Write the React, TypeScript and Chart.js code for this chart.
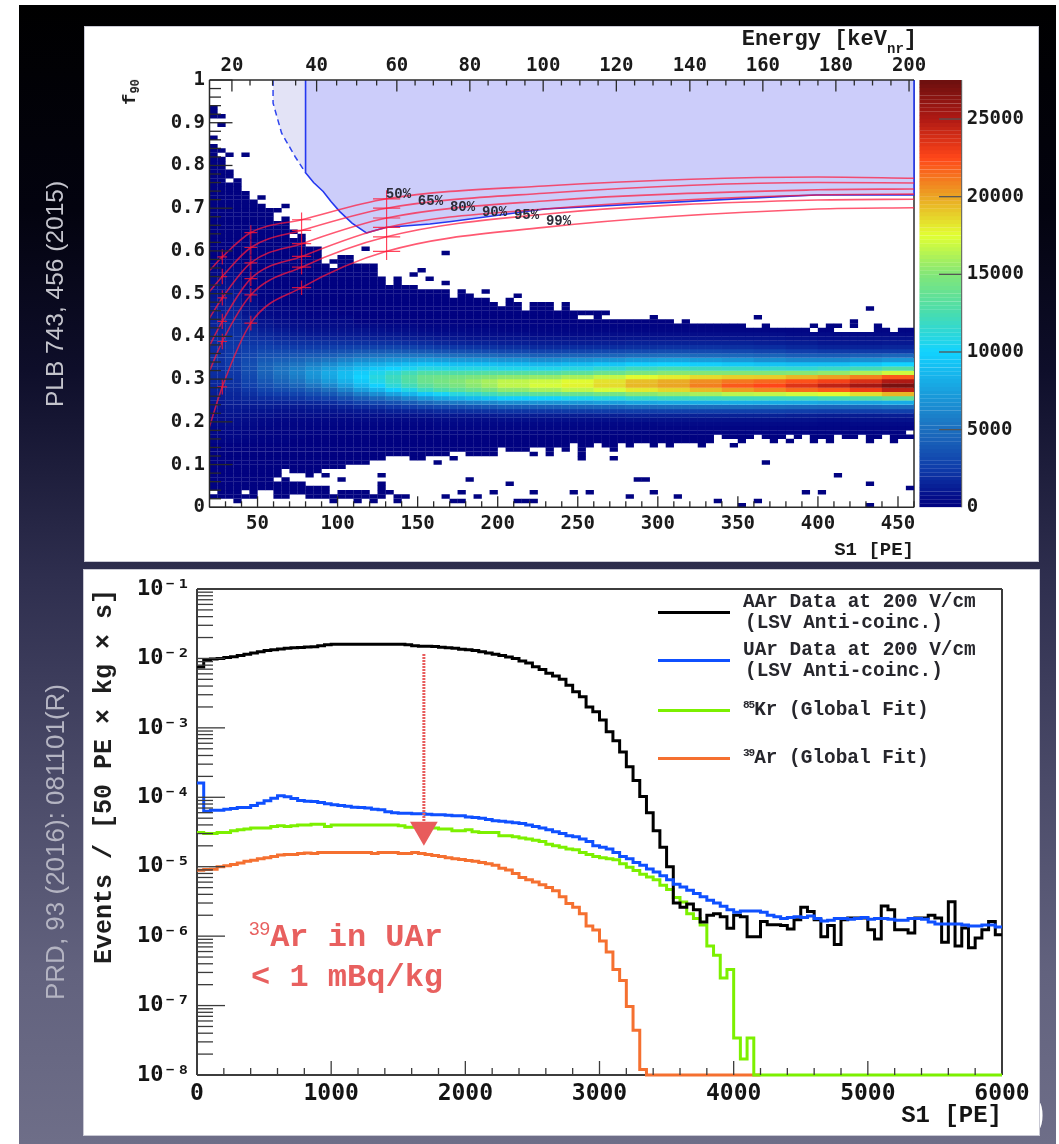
import React, { useEffect, useRef } from "react";
import { Chart, registerables } from "chart.js";

Chart.register(...registerables);

const PAGE_W = 1059;
const PAGE_H = 1144;
const TICK_FONT = "'DejaVu Sans Mono', monospace";
const TEXT_FONT = "'Liberation Mono', monospace";

/* ---------- top panel data: f90 vs S1 histogram, 5 PE x 0.01 bins ---------- */
const s1Min = 20;
const s1Max = 460;
const s1BinWidth = 5;
const heatFirstRow = 15;

// counts / 1000, per block of S1 (block starts in heatBlockStart), from f90 = 0.15 upward in 0.01 rows
const heatC25 = [.3,.3,.4,.4,.5,.6,.7,.8,.9,1,1.2,1.3,1.4,1.6,1.7,1.8,1.9,1.9,2,2,2,1.9,1.9,1.8,1.8,1.7,1.6,1.5,1.5,1.4,1.3,1.2,1.1,1,.9,.8,.8,.7,.6,.5,.4,.3,.2];
const heatC30 = [.3,.4,.4,.5,.6,.7,.8,1,1.1,1.3,1.5,1.6,1.8,2,2.1,2.2,2.3,2.4,2.5,2.5,2.4,2.3,2.3,2.2,2.1,2,1.9,1.8,1.7,1.6,1.5,1.4,1.3,1.2,1.1,1,.9,.8,.7,.6,.5,.4,.3];
const heatC40 = [.2,.3,.3,.4,.5,.6,.7,.9,1.1,1.4,1.7,2,2.3,2.7,2.9,3.1,3.3,3.4,3.4,3.2,3,2.7,2.5,2.2,2,1.8,1.6,1.4,1.2,1.1,.9,.8,.7,.6,.5,.4,.3,.3,.2];
const heatC50 = [.2,.2,.3,.3,.4,.5,.7,.9,1.2,1.5,1.9,2.4,2.9,3.4,3.8,4.2,4.4,4.5,4.3,3.9,3.5,3.1,2.7,2.3,1.9,1.6,1.3,1,.8,.6,.5,.4,.3,.25,.2,.2,.2,.2];
const heatC60 = [.2,.2,.2,.3,.3,.4,.6,.8,1.1,1.5,2,2.6,3.3,3.9,4.5,4.9,5.2,5.2,4.8,4.2,3.6,3.1,2.6,2.1,1.7,1.4,1.1,.8,.6,.5,.4,.3,.2,.2];
const heatC70 = [.1,.2,.2,.3,.3,.4,.6,.8,1.1,1.6,2.2,2.9,3.7,4.5,5.2,5.7,6,5.8,5.2,4.5,3.8,3.1,2.5,2,1.6,1.2,.9,.7,.5,.4,.3,.3,.2,.2];
const heatC80 = [.1,.1,.2,.2,.3,.4,.6,.9,1.2,1.7,2.5,3.4,4.3,5.3,6.2,6.8,7,6.6,5.8,4.9,4,3.2,2.5,2,1.5,1.1,.8,.6,.4,.3,.2];
const heatC90 = [.1,.1,.2,.2,.3,.4,.6,.9,1.3,1.9,2.8,3.9,5,6.2,7.2,7.8,8,7.4,6.4,5.3,4.2,3.3,2.6,2,1.5,1.1,.8,.6,.4,.3,.2,.2];
const heatC100 = [.1,.1,.2,.2,.3,.4,.6,1,1.5,2.3,3.4,4.7,6.1,7.4,8.3,8.9,8.9,8.2,7.1,5.9,4.6,3.5,2.7,2,1.5,1.1,.8,.6,.4,.3];
const heatC110 = [.1,.1,.2,.2,.3,.5,.7,1.1,1.8,2.8,4.1,5.7,7.4,8.7,9.5,10,9.7,8.9,7.8,6.4,5,3.8,2.8,2,1.5,1.1,.8,.5];
const heatC120 = [.1,.1,.2,.2,.3,.5,.7,1.2,2,3.2,4.7,6.6,8.5,9.9,10.7,11,10.6,9.5,8.2,6.7,5.2,3.9,2.8,2,1.4,1,.7,.5];
const heatC130 = [.1,.1,.2,.2,.3,.5,.8,1.4,2.3,3.6,5.4,7.6,9.8,11.2,11.8,12,11.4,10,8.6,7,5.4,4,2.9,2,1.4,1,.6,.4];
const heatC140 = [.1,.1,.1,.2,.3,.5,.8,1.5,2.6,4.1,6.2,8.5,10.8,12.2,12.9,13,12.2,10.5,9,7.2,5.4,3.9,2.8,1.9,1.3,.9,.6,.4];
const heatC150 = [.1,.1,.1,.2,.3,.5,.9,1.6,2.9,4.7,7,9.5,11.9,13.3,14,14,12.9,11,9.3,7.4,5.4,3.8,2.6,1.8,1.2,.8,.5,.3];
const heatC160 = [.1,.1,.2,.3,.4,.6,1,1.8,3.2,5.2,7.7,10.3,12.7,14,14.5,14.2,12.9,10.9,9.2,7.2,5.2,3.6,2.4,1.6,1.1,.7,.4,.3];
const heatC170 = [.1,.1,.2,.3,.4,.6,1,1.9,3.4,5.6,8.3,11,13.4,14.6,15,14.4,12.8,10.8,9,7.1,5,3.4,2.3,1.5,1,.7,.4,.3];
const heatC180 = [.1,.1,.2,.3,.4,.6,1,2,3.6,5.9,8.8,11.6,14,15.2,15.5,14.7,12.9,10.9,9,7,4.9,3.3,2.2,1.4,.9,.6,.4,.2];
const heatC190 = [.1,.1,.2,.3,.4,.6,1.1,2.1,3.8,6.2,9.2,12.2,14.6,15.8,16,15,13,10.9,9,7,4.8,3.2,2.1,1.4,.9,.6,.4,.2];
const heatC210 = [.1,.1,.2,.3,.4,.7,1.2,2.2,4.1,6.6,9.8,12.9,15.4,16.6,16.6,15.3,13,10.7,8.8,6.8,4.6,3,2,1.3,.9,.6,.3,.2];
const heatC230 = [.1,.1,.2,.3,.4,.7,1.2,2.3,4.2,6.9,10.1,13.4,16,17.2,17,15.5,13,10.7,8.6,6.5,4.3,2.8,1.8,1.2,.8,.5,.3,.2];
const heatC250 = [.1,.1,.2,.3,.4,.7,1.2,2.4,4.4,7.1,10.5,13.9,16.6,17.8,17.6,16,13.4,11,8.9,6.8,4.5,2.9,1.9,1.2,.8,.5,.3,.2];
const heatC270 = [.1,.1,.2,.3,.4,.7,1.3,2.5,4.5,7.4,10.9,14.4,17.2,18.5,18.3,16.7,14,11.5,9.3,7,4.6,3.1,1.9,1.3,.8,.6,.3,.2];
const heatC290 = [.1,.1,.2,.3,.4,.8,1.4,2.6,4.8,7.8,11.5,15.2,18.1,19.5,19.3,17.6,14.7,12.1,9.8,7.4,4.9,3.2,2,1.4,.9,.6,.3,.2];
const heatC310 = [.1,.1,.2,.3,.5,.8,1.4,2.7,4.9,8,11.8,15.6,18.6,20,19.8,18,15.1,12.4,10,7.6,5,3.3,2.1,1.4,.9,.6,.3,.2];
const heatC330 = [.1,.1,.2,.3,.5,.8,1.4,2.7,4.9,8.1,12,16,19.4,21,20.6,18.5,15,12.1,9.8,7.3,4.8,3.2,2.1,1.4,.9,.6,.3,.2];
const heatC350 = [.1,.1,.2,.3,.5,.8,1.4,2.7,4.9,8.2,12.1,16.5,20.2,22,21.2,18.8,15,11.9,9.5,7,4.7,3.1,2,1.4,.9,.6,.3,.2];
const heatC370 = [.1,.1,.2,.3,.5,.8,1.4,2.7,4.8,8.1,12,16.7,20.8,22.5,21.6,18.9,14.9,11.7,9.2,6.6,4.5,2.9,1.9,1.3,.9,.6,.3,.2];
const heatC390 = [.1,.1,.2,.3,.5,.8,1.3,2.6,4.7,8,12,17.1,21.5,23.5,22.2,19.5,15.1,11.5,9,6.3,4.2,2.6,1.7,1.2,.8,.5,.3,.2];
const heatC410 = [.1,.1,.2,.3,.4,.7,1.2,2.5,4.6,7.8,12.3,17.6,22,24.5,22.8,20.1,15.4,11.8,9,6.3,4.1,2.4,1.5,1,.7,.5,.2,.2];
const heatC430 = [.1,.1,.2,.3,.5,.8,1.2,2.6,4.7,7.8,12.8,18.4,23,25.5,23.7,20.9,16.1,12.3,9.4,6.6,4.3,2.4,1.5,1,.8,.5,.3,.2];
const heatC450 = [.1,.1,.2,.3,.5,.8,1.3,2.7,4.9,8.1,13.5,19.5,24.5,27,25,22,17,13,10,7,4.6,2.4,1.6,1.1,.8,.5,.3,.2];
const heatColumns = [heatC25,heatC30,heatC40,heatC50,heatC60,heatC70,heatC80,heatC90,heatC100,heatC110,heatC120,heatC130,heatC140,heatC150,heatC160,heatC170,heatC180,heatC190,heatC210,heatC230,heatC250,heatC270,heatC290,heatC310,heatC330,heatC350,heatC370,heatC390,heatC410,heatC430,heatC450];
const heatBlockStart = [20,30,40,50,60,70,80,90,100,110,120,130,140,150,160,170,180,190,200,220,240,260,280,300,320,340,360,380,400,420,440];

// occupied rows of each 5 PE column: lowerEdge <= row < upperEdge
const upperEdge = [85,84,79,77,74,72,71,70,67,68,65,64,61,61,58,58,59,59,57,57,57,54,52,54,52,52,51,51,51,51,49,51,50,49,49,48,47,49,48,46,48,48,48,46,48,46,46,46,46,44,44,44,44,44,44,45,44,44,43,44,43,43,43,43,43,43,43,42,42,43,42,42,42,42,42,43,42,43,41,41,41,41,41,43,42,41,42,42];
const lowerEdge = [2,2,2,2,2,2,4,4,7,9,8,8,7,8,9,9,9,10,10,10,11,11,12,12,12,11,11,12,12,12,13,13,12,12,12,12,14,13,13,13,14,14,12,14,13,15,14,14,15,14,13,15,14,15,15,14,15,14,15,15,15,14,15,17,16,16,15,16,17,16,15,16,15,16,17,15,16,15,17,16,16,17,15,16,17,15,16,16];
// second occupied band at small f90: [column, firstRow, endRow]
const lowBand = [[8,2,6],[9,2,7],[10,3,6],[11,3,6],[12,2,5],[13,2,5],[14,2,5],[15,1,3],[16,2,4],[17,2,4],[18,1,4],[19,2,4],[20,1,3],[21,2,6],[22,3,4],[23,1,3],[24,2,3]];
// isolated occupied cells: [column, row]
const isolatedCells = [[0,91],[0,92],[0,93],[0,86],[1,91],[1,89],[2,82],[4,82],[6,72],[9,70],[8,69],[19,60],[25,54],[26,55],[27,53],[29,59],[29,52],[34,50],[38,49],[49,45],[68,44],[82,46],[78,42],[80,42],[80,43],[28,10],[30,11],[40,12],[46,11],[46,12],[46,13],[50,11],[65,14],[69,10],[32,6],[37,5],[53,6],[54,6],[14,7],[16,6],[21,7],[29,2],[31,3],[33,2],[35,3],[40,3],[45,3],[47,3],[52,2],[55,3],[58,2],[63,1],[68,1],[30,1],[31,1],[38,1],[39,1],[40,1],[66,0],[78,7],[82,5],[74,3],[76,3],[87,4],[82,0],[3,1]];
// empty cells inside the occupied region: [column, row]
const emptyCells = [[1,82],[2,76],[10,63],[15,56],[14,57],[46,44],[47,44],[75,41],[72,16],[87,17],[0,3],[4,3]];

const colorStops: [number, number[]][] = [
  [0, [0, 0, 128]], [0.5, [3, 10, 135]], [2.5, [15, 60, 170]], [5, [28, 110, 190]], [7.5, [25, 160, 222]],
  [10, [18, 210, 255]], [12.5, [72, 220, 175]], [15, [130, 230, 120]], [17.5, [225, 255, 50]],
  [20, [235, 165, 35]], [22.5, [255, 70, 25]], [25, [175, 25, 20]], [27.6, [105, 15, 15]],
];

// acceptance curves: S1 nodes and f90 per percentage
const curveS1 = [20, 28, 45.8, 77.5, 130.6, 229, 400, 460];
const curve50 = [.554, .586, .643, .673, .722, .752, .773, .770];
const curve65 = [.505, .54, .608, .648, .70, .735, .76, .759];
const curve80 = [.443, .49, .572, .617, .677, .717, .743, .745];
const curve90 = [.378, .435, .535, .587, .655, .698, .731, .733];
const curve95 = [.319, .388, .497, .562, .633, .686, .719, .721];
const curve99 = [.189, .282, .431, .514, .599, .655, .698, .701];
const acceptanceCurves = [curve50, curve65, curve80, curve90, curve95, curve99];
const errorNodes = [1, 2, 3, 4];
const errorHalfS1 = [0, 3, 4, 6, 8.5];
const errorHalfF90 = [0, .018, .017, .017, .02];
const curveLabels = ["50%", "65%", "80%", "90%", "95%", "99%"];
const curveLabelS1 = [138, 158, 178, 198, 218, 238];
const curveLabelF90 = [.731, .716, .701, .691, .684, .669];

// acceptance region outlines
const regionS1 = [80, 80, 85, 91, 96, 101.4, 109, 118, 130, 157.6, 171, 229.4, 376, 399, 460, 460];
const regionF90 = [1, .783, .76, .739, .715, .692, .665, .642, .655, .663, .669, .698, .727, .731, .731, 1];
const lightRegionS1 = [59.7, 59.7, 65, 73.4, 80];
const lightRegionF90 = [1, .946, .876, .821, .783];

const energyLabels = ["20", "40", "60", "80", "100", "120", "140", "160", "180", "200"];
const energyTickS1 = [34, 86.9, 137, 182.6, 228.4, 274.1, 320, 365.6, 411.2, 456.9];
const energyMinorS1 = [45.3,59.4,73.8,99.4,111.9,124.4,148.4,159.8,171.2,194,205.5,217,239.8,251.3,262.7,285.5,297,308.4,331,342.5,354,377,388.5,400,422.7,434.1,445.6];

/* ---------- bottom panel data: S1 spectra, 50 PE bins from 0 to 6000 ---------- */
const binWidthPE = 50;
const aarData = [7.5e-3,9.5e-3,9.8e-3,1e-2,1.03e-2,1.06e-2,1.1e-2,1.15e-2,1.2e-2,1.25e-2,1.3e-2,1.33e-2,1.37e-2,1.4e-2,1.42e-2,1.44e-2,1.46e-2,1.47e-2,1.52e-2,1.58e-2,1.6e-2,1.6e-2,1.6e-2,1.6e-2,1.6e-2,1.6e-2,1.6e-2,1.6e-2,1.6e-2,1.6e-2,1.6e-2,1.57e-2,1.52e-2,1.5e-2,1.5e-2,1.48e-2,1.45e-2,1.42e-2,1.4e-2,1.36e-2,1.33e-2,1.3e-2,1.25e-2,1.2e-2,1.15e-2,1.1e-2,1.05e-2,1e-2,9.2e-3,8.6e-3,7.6e-3,6.9e-3,6.1e-3,5.6e-3,5e-3,4.1e-3,3.3e-3,2.8e-3,2e-3,1.7e-3,1.3e-3,8.8e-4,6.5e-4,4.5e-4,2.75e-4,1.75e-4,1.03e-4,6e-5,3.3e-5,1.9e-5,1e-5,3e-6,2.6e-6,2.9e-6,2.4e-6,1.6e-6,2e-6,2.1e-6,1.9e-6,1.3e-6,2e-6,1.9e-6,9.8e-7,9.8e-7,1.63e-6,1.46e-6,1.46e-6,1.42e-6,1.27e-6,1.72e-6,2.6e-6,2.27e-6,1.72e-6,9.8e-7,1.42e-6,7.6e-7,1.72e-6,1.82e-6,1.82e-6,1.82e-6,1.24e-6,9.1e-7,2.72e-6,2.4e-6,1.24e-6,1.24e-6,1.11e-6,1.82e-6,1.82e-6,2e-6,1.82e-6,8.2e-7,3.14e-6,7.2e-7,1.31e-6,6.8e-7,9.4e-7,1.24e-6,1.63e-6,1.05e-6];
const uarData = [1.6e-4,6.3e-5,6.5e-5,6.5e-5,6.7e-5,6.9e-5,7.1e-5,7.1e-5,7.6e-5,8.2e-5,8.9e-5,9.7e-5,1.05e-4,1.02e-4,9.6e-5,9e-5,8.8e-5,8.7e-5,8.4e-5,8.1e-5,7.8e-5,7.6e-5,7.4e-5,7.2e-5,7.1e-5,7e-5,6.7e-5,6.6e-5,6.2e-5,6e-5,5.9e-5,5.9e-5,5.8e-5,5.8e-5,5.7e-5,5.6e-5,5.6e-5,5.5e-5,5.4e-5,5.4e-5,5.2e-5,5.1e-5,5e-5,4.8e-5,4.6e-5,4.5e-5,4.4e-5,4.3e-5,4.2e-5,4e-5,3.8e-5,3.6e-5,3.4e-5,3.2e-5,3e-5,2.8e-5,2.7e-5,2.5e-5,2.3e-5,2e-5,1.9e-5,1.8e-5,1.6e-5,1.4e-5,1.3e-5,1.15e-5,1.05e-5,9.3e-6,8.4e-6,7.4e-6,6.5e-6,5.6e-6,5.1e-6,4.6e-6,4.1e-6,3.7e-6,3.3e-6,3e-6,2.7e-6,2.4e-6,2.2e-6,2.3e-6,2.3e-6,2.3e-6,2.2e-6,2e-6,1.9e-6,1.8e-6,1.85e-6,1.9e-6,1.85e-6,1.95e-6,1.8e-6,1.65e-6,1.7e-6,1.8e-6,1.8e-6,1.75e-6,1.8e-6,1.85e-6,1.75e-6,1.8e-6,1.8e-6,1.75e-6,1.7e-6,1.7e-6,1.8e-6,1.8e-6,1.75e-6,1.6e-6,1.5e-6,1.5e-6,1.5e-6,1.5e-6,1.45e-6,1.4e-6,1.4e-6,1.45e-6,1.45e-6,1.35e-6];
const krFit = [3.1e-5,3e-5,3e-5,3.1e-5,3.1e-5,3.3e-5,3.4e-5,3.5e-5,3.6e-5,3.6e-5,3.6e-5,3.8e-5,3.9e-5,3.8e-5,3.9e-5,4e-5,4e-5,4.1e-5,4.1e-5,3.8e-5,4e-5,4e-5,4e-5,4e-5,4e-5,4e-5,4e-5,4e-5,4e-5,4e-5,3.9e-5,3.7e-5,3.7e-5,3.7e-5,3.6e-5,3.6e-5,3.5e-5,3.5e-5,3.3e-5,3.3e-5,3.4e-5,3.2e-5,3.1e-5,3.1e-5,3.1e-5,2.8e-5,2.8e-5,2.7e-5,2.6e-5,2.5e-5,2.4e-5,2.3e-5,2.1e-5,2e-5,1.9e-5,1.8e-5,1.75e-5,1.6e-5,1.5e-5,1.4e-5,1.35e-5,1.3e-5,1.26e-5,1.1e-5,9.8e-6,8.8e-6,7.8e-6,7.1e-6,6.5e-6,5.4e-6,4.7e-6,3.6e-6,3.1e-6,2.1e-6,1.8e-6,1.45e-6,7.2e-7,5.3e-7,2.5e-7,3.3e-7,3.4e-8,1.7e-8,3.4e-8,1e-8,1e-8,1e-8,1e-8,1e-8,1e-8,1e-8,1e-8,1e-8,1e-8,1e-8,1e-8,1e-8,1e-8,1e-8,1e-8,1e-8,1e-8,1e-8,1e-8,1e-8,1e-8,1e-8,1e-8,1e-8,1e-8,1e-8,1e-8,1e-8,1e-8,1e-8,1e-8,1e-8,1e-8,1e-8,1e-8,1e-8];
const arFit = [8.9e-6,9.1e-6,9.2e-6,1e-5,1.03e-5,1.08e-5,1.13e-5,1.2e-5,1.24e-5,1.3e-5,1.35e-5,1.4e-5,1.47e-5,1.5e-5,1.5e-5,1.55e-5,1.58e-5,1.55e-5,1.6e-5,1.6e-5,1.6e-5,1.6e-5,1.6e-5,1.6e-5,1.6e-5,1.6e-5,1.55e-5,1.6e-5,1.6e-5,1.6e-5,1.55e-5,1.55e-5,1.6e-5,1.55e-5,1.5e-5,1.45e-5,1.4e-5,1.35e-5,1.3e-5,1.27e-5,1.23e-5,1.2e-5,1.15e-5,1.1e-5,1.05e-5,9.5e-6,9e-6,8e-6,7e-6,6.5e-6,6e-6,5.5e-6,5e-6,4.5e-6,3.7e-6,2.95e-6,2.6e-6,2.1e-6,1.4e-6,1.23e-6,8.5e-7,5.9e-7,3.3e-7,2.3e-7,9.7e-8,4.4e-8,1.2e-8,1e-8,1e-8,1e-8,1e-8,1e-8,1e-8,1e-8,1e-8,1e-8,1e-8,1e-8,1e-8,1e-8,1e-8,1e-8,1e-8,1e-8];
const decadeTicks = [1e-8, 1e-7, 1e-6, 1e-5, 1e-4, 1e-3, 1e-2, 1e-1];
const decadeLabels = ["10⁻⁸", "10⁻⁷", "10⁻⁶", "10⁻⁵", "10⁻⁴", "10⁻³", "10⁻²", "10⁻¹"];
const arrowS1 = [1691, 1691];
const arrowRate = [0.0116, 3.4e-5];

/* ---------- helpers ---------- */
function paletteColor(k: number) {
  for (let i = 1; i < colorStops.length; i++) {
    if (k <= colorStops[i][0]) {
      const [a, ca] = colorStops[i - 1];
      const [b, cb] = colorStops[i];
      const t = (k - a) / (b - a);
      const c = ca.map((v, j) => Math.round(v + (cb[j] - v) * t));
      return `rgb(${c[0]},${c[1]},${c[2]})`;
    }
  }
  return "rgb(105,15,15)";
}

function heatValue(col: number, row: number) {
  const s1 = s1Min + col * s1BinWidth;
  let block = 0;
  heatBlockStart.forEach((start, i) => { if (s1 >= start) block = i; });
  const v = heatColumns[block][row - heatFirstRow];
  return v === undefined ? 0.1 : v;
}

function buildCells() {
  const keys = new Set<string>();
  upperEdge.forEach((up, i) => {
    for (let r = lowerEdge[i]; r < up; r++) keys.add(i + ":" + r);
  });
  lowBand.forEach(([i, a, b]) => {
    for (let r = a; r < b; r++) keys.add(i + ":" + r);
  });
  isolatedCells.forEach(([i, r]) => keys.add(i + ":" + r));
  emptyCells.forEach(([i, r]) => keys.delete(i + ":" + r));
  const data: any[] = [];
  const colors: string[] = [];
  keys.forEach((key) => {
    const [i, r] = key.split(":").map(Number);
    data.push({ x: s1Min + s1BinWidth * (i + 0.5), y: [r / 100, (r + 1) / 100] });
    colors.push(paletteColor(heatValue(i, r)));
  });
  return { data, colors };
}

function pairs(xs: number[], ys: number[]) {
  return xs.map((x, i) => ({ x, y: ys[i] }));
}

function histogram(values: number[]) {
  const pts = values.map((y, i) => ({ x: i * binWidthPE, y }));
  pts.push({ x: values.length * binWidthPE, y: values[values.length - 1] });
  return pts;
}

type TickSpec = { scale: string; values: number[]; len: number; side: "left" | "right" | "top" | "bottom" };

function makeFrame(id: string, spec: { ticks: TickSpec[]; before: string[]; after: string[]; color: string; width: number; labels?: any[] }) {
  const sideLine = (chart: any, side: string) => {
    const { ctx, chartArea: a } = chart;
    ctx.beginPath();
    if (side === "left") { ctx.moveTo(a.left, a.top); ctx.lineTo(a.left, a.bottom); }
    if (side === "right") { ctx.moveTo(a.right, a.top); ctx.lineTo(a.right, a.bottom); }
    if (side === "top") { ctx.moveTo(a.left, a.top); ctx.lineTo(a.right, a.top); }
    if (side === "bottom") { ctx.moveTo(a.left, a.bottom); ctx.lineTo(a.right, a.bottom); }
    ctx.stroke();
  };
  return {
    id,
    beforeDatasetsDraw(chart: any) {
      const { ctx } = chart;
      ctx.save();
      ctx.strokeStyle = spec.color;
      ctx.lineWidth = spec.width;
      spec.before.forEach((s) => sideLine(chart, s));
      ctx.restore();
    },
    afterDatasetsDraw(chart: any) {
      const { ctx, chartArea: a } = chart;
      ctx.save();
      ctx.strokeStyle = spec.color;
      ctx.lineWidth = spec.width;
      spec.after.forEach((s) => sideLine(chart, s));
      ctx.lineWidth = 1.3;
      spec.ticks.forEach((t) => {
        const sc = chart.scales[t.scale];
        t.values.forEach((v) => {
          const p = sc.getPixelForValue(v);
          ctx.beginPath();
          if (t.side === "left") { ctx.moveTo(a.left, p); ctx.lineTo(a.left + t.len, p); }
          if (t.side === "right") { ctx.moveTo(a.right, p); ctx.lineTo(a.right - t.len, p); }
          if (t.side === "bottom") { ctx.moveTo(p, a.bottom); ctx.lineTo(p, a.bottom - t.len); }
          if (t.side === "top") { ctx.moveTo(p, a.top); ctx.lineTo(p, a.top + t.len); }
          ctx.stroke();
        });
      });
      (spec.labels || []).forEach((l) => {
        ctx.font = `bold 14px ${TEXT_FONT}`;
        ctx.fillStyle = "#2c2c38";
        ctx.textAlign = "center";
        ctx.textBaseline = "middle";
        ctx.fillText(l.text, chart.scales.x.getPixelForValue(l.x), chart.scales.y.getPixelForValue(l.y));
      });
      ctx.restore();
    },
  };
}

function fixBox(width?: number, height?: number) {
  return (axis: any) => {
    if (width !== undefined) axis.width = width;
    if (height !== undefined) axis.height = height;
    axis.paddingLeft = 0;
    axis.paddingRight = 0;
    axis.paddingTop = 0;
    axis.paddingBottom = 0;
  };
}

function range(from: number, to: number, step: number, skip = 0) {
  const out: number[] = [];
  for (let i = 0, v = from; v <= to + 1e-9; i++, v = from + i * step) {
    if (!skip || Math.abs(v / skip - Math.round(v / skip)) > 1e-6) out.push(v);
  }
  return out;
}

const noGrid = { display: false, drawTicks: false };

function heatChart(canvas: HTMLCanvasElement) {
  const cells = buildCells();
  const datasets: any[] = [
    { type: "bar", label: "f90 vs S1", data: cells.data, backgroundColor: cells.colors, borderWidth: 0, inflateAmount: 0.12, categoryPercentage: 1, barPercentage: 1, order: 10 },
    { type: "line", label: "Low-energy region", data: pairs(lightRegionS1, lightRegionF90), borderColor: "#2f45ee", borderWidth: 1.5, borderDash: [6, 4], backgroundColor: "#e3e3f6", fill: "end", pointRadius: 0, tension: 0, order: 6 },
    { type: "line", label: "WIMP search region", data: pairs(regionS1, regionF90), borderColor: "#2438f0", borderWidth: 1.6, backgroundColor: "#cccdfa", fill: "end", pointRadius: 0, tension: 0, order: 5, clip: false },
  ];
  acceptanceCurves.forEach((curve, k) => {
    datasets.push({ type: "line", label: curveLabels[k] + " acceptance", data: pairs(curveS1, curve), borderColor: "rgba(255,25,60,0.72)", borderWidth: 1.6, pointRadius: 0, cubicInterpolationMode: "monotone", fill: false, order: 3 });
  });
  const bars: any[] = [];
  errorNodes.forEach((n) => {
    acceptanceCurves.forEach((curve) => {
      bars.push({ x: curveS1[n], y: curve[n] - errorHalfF90[n] }, { x: curveS1[n], y: curve[n] + errorHalfF90[n] }, { x: curveS1[n], y: null });
      bars.push({ x: curveS1[n] - errorHalfS1[n], y: curve[n] }, { x: curveS1[n] + errorHalfS1[n], y: curve[n] }, { x: curveS1[n], y: null });
    });
  });
  datasets.push({ type: "line", label: "Acceptance errors", data: bars, borderColor: "rgba(255,20,50,0.8)", borderWidth: 1.2, pointRadius: 0, spanGaps: false, fill: false, order: 2 });

  const frame = makeFrame("heatFrame", {
    before: ["right"],
    after: ["left", "bottom", "top"],
    color: "#2a2a2a",
    width: 1.5,
    ticks: [
      { scale: "x", values: range(50, 450, 50), len: 11, side: "bottom" },
      { scale: "x", values: range(30, 460, 10, 50), len: 6, side: "bottom" },
      { scale: "y", values: range(0, 1, 0.1), len: 23, side: "left" },
      { scale: "y", values: range(0.02, 0.98, 0.02, 0.1), len: 11.5, side: "left" },
      { scale: "xTop", values: energyTickS1, len: 11.5, side: "top" },
      { scale: "xTop", values: energyMinorS1, len: 5.5, side: "top" },
    ],
    labels: curveLabels.map((text, i) => ({ text, x: curveLabelS1[i], y: curveLabelF90[i] })),
  });

  return new Chart(canvas, {
    type: "bar",
    data: { datasets },
    plugins: [frame],
    options: {
      responsive: false,
      animation: false,
      devicePixelRatio: 1,
      layout: { padding: { left: 0, top: 0, right: PAGE_W - 914, bottom: PAGE_H - 562 } },
      plugins: { legend: { display: false }, tooltip: { enabled: false } },
      scales: {
        x: {
          type: "linear", position: "bottom", min: s1Min, max: s1Max, offset: false,
          grid: noGrid, border: { display: false },
          afterFit: fixBox(undefined, 54.7),
          afterBuildTicks: (axis: any) => { axis.ticks = range(50, 450, 50).map((value) => ({ value })); },
          ticks: { autoSkip: false, maxRotation: 0, padding: 5, color: "#1a1a1a", font: { family: TICK_FONT, size: 19, weight: "bold" }, callback: (v: any) => String(v) },
          title: { display: true, text: "S1 [PE]", align: "end", padding: 0, color: "#1a1a1a", font: { family: TEXT_FONT, size: 19, weight: "bold" } },
        },
        xTop: {
          type: "linear", position: "top", min: s1Min, max: s1Max, offset: false,
          grid: noGrid, border: { display: false },
          afterFit: fixBox(undefined, 80),
          afterBuildTicks: (axis: any) => { axis.ticks = energyTickS1.map((value) => ({ value })); },
          ticks: { autoSkip: false, maxRotation: 0, padding: 2.3, color: "#1a1a1a", font: { family: TICK_FONT, size: 19, weight: "bold" }, callback: (_v: any, i: number) => energyLabels[i] },
        },
        y: {
          type: "linear", position: "left", min: 0, max: 1, offset: false,
          grid: noGrid, border: { display: false },
          afterFit: fixBox(209.5),
          afterBuildTicks: (axis: any) => { axis.ticks = range(0, 1, 0.1).map((value) => ({ value })); },
          ticks: { autoSkip: false, padding: 4.5, color: "#1a1a1a", font: { family: TICK_FONT, size: 19, weight: "bold" }, callback: (v: any) => String(Number(Number(v).toFixed(1))) },
        },
      },
    },
  } as any);
}

function colorBarChart(canvas: HTMLCanvasElement) {
  const step = 250;
  const levels = range(step / 2, 27500, step);
  const frame = makeFrame("barFrame", {
    before: [],
    after: ["right"],
    color: "#555",
    width: 1,
    ticks: [{ scale: "y", values: [5000, 10000, 15000, 20000, 25000], len: 22.7, side: "right" }],
  });
  return new Chart(canvas, {
    type: "bar",
    data: {
      datasets: [{
        label: "Colour scale",
        data: levels.map((y) => ({ y, x: [0, 1] })),
        backgroundColor: levels.map((v) => paletteColor(v / 1000)),
        borderWidth: 0, inflateAmount: 0.1, categoryPercentage: 1, barPercentage: 1,
      }],
    },
    plugins: [frame],
    options: {
      indexAxis: "y",
      responsive: false,
      animation: false,
      devicePixelRatio: 1,
      layout: { padding: { left: 919.3, top: 80, right: 0, bottom: PAGE_H - 507.3 } },
      plugins: { legend: { display: false }, tooltip: { enabled: false } },
      scales: {
        x: { type: "linear", min: 0, max: 1, display: false, offset: false },
        y: {
          type: "linear", position: "right", min: 0, max: 27513, offset: false,
          grid: noGrid, border: { display: false },
          afterFit: fixBox(PAGE_W - 961.7),
          afterBuildTicks: (axis: any) => { axis.ticks = range(0, 25000, 5000).map((value) => ({ value })); },
          ticks: { autoSkip: false, padding: 5, color: "#1a1a1a", font: { family: TICK_FONT, size: 19, weight: "bold" }, callback: (v: any) => String(v) },
        },
      },
    },
  } as any);
}

function spectrumChart(canvas: HTMLCanvasElement) {
  const line = (label: string, values: number[], color: string, order: number) => ({
    label, data: histogram(values), borderColor: color, borderWidth: 3, pointRadius: 0, stepped: "before", fill: false, order, clip: false,
  });
  const logMinor: number[] = [];
  decadeTicks.slice(0, -1).forEach((d) => {
    [2, 3, 4, 5, 6, 7, 8, 9].forEach((m) => logMinor.push(d * m));
  });
  const frame = makeFrame("spectrumFrame", {
    before: ["left", "bottom", "top", "right"],
    after: [],
    color: "#3c3c3c",
    width: 2,
    ticks: [
      { scale: "x", values: range(1000, 5000, 1000), len: 14, side: "bottom" },
      { scale: "x", values: range(200, 5800, 200, 1000), len: 7, side: "bottom" },
      { scale: "y", values: decadeTicks.slice(1, -1), len: 28, side: "left" },
      { scale: "y", values: logMinor, len: 16, side: "left" },
    ],
  });
  return new Chart(canvas, {
    type: "line",
    data: {
      datasets: [
        { label: "Arrow", data: pairs(arrowS1, arrowRate), borderColor: "#e85c5c", backgroundColor: "#e85c5c", borderWidth: 3, borderDash: [2, 1], pointStyle: "triangle", pointRotation: 180, pointRadius: [0, 13], order: 0, fill: false, clip: false },
        line("UAr Data at 200 V/cm (LSV Anti-coinc.)", uarData, "#0f50ff", 1),
        line("AAr Data at 200 V/cm (LSV Anti-coinc.)", aarData, "#000000", 2),
        line("85Kr (Global Fit)", krFit, "#7cf000", 3),
        line("39Ar (Global Fit)", arFit, "#f57030", 4),
      ],
    },
    plugins: [frame],
    options: {
      responsive: false,
      animation: false,
      devicePixelRatio: 1,
      layout: { padding: { left: 90, top: 589, right: PAGE_W - 1002, bottom: 14 } },
      plugins: { legend: { display: false }, tooltip: { enabled: false } },
      scales: {
        x: {
          type: "linear", min: 0, max: 6000, position: "bottom",
          grid: noGrid, border: { display: false },
          afterFit: fixBox(undefined, 1130 - 1075),
          afterBuildTicks: (axis: any) => { axis.ticks = range(0, 6000, 1000).map((value) => ({ value })); },
          ticks: { autoSkip: false, maxRotation: 0, padding: 5, color: "#141414", font: { family: TICK_FONT, size: 23, weight: "bold" }, callback: (v: any) => String(v) },
          title: { display: true, text: "S1 [PE]", align: "end", padding: 0, color: "#141414", font: { family: TEXT_FONT, size: 24, weight: "bold" } },
        },
        y: {
          type: "logarithmic", min: 1e-8, max: 1e-1, position: "left",
          grid: noGrid, border: { display: false },
          afterFit: fixBox(197 - 90),
          afterBuildTicks: (axis: any) => { axis.ticks = decadeTicks.map((value) => ({ value })); },
          ticks: { autoSkip: false, padding: 7, color: "#141414", font: { family: TICK_FONT, size: 22, weight: "bold" }, callback: (_v: any, i: number) => decadeLabels[i] },
          title: { display: true, text: "Events / [50 PE × kg × s]", align: "end", padding: 0, color: "#1e1e1e", font: { family: TEXT_FONT, size: 25, weight: "bold" } },
        },
      },
    },
  } as any);
}

/* ---------- DOM parts ---------- */
const abs = (s: React.CSSProperties): React.CSSProperties => ({ position: "absolute", ...s });
const legendFont: React.CSSProperties = { fontFamily: TEXT_FONT, fontWeight: 700, fontSize: 19.4, color: "#26262c", whiteSpace: "pre", lineHeight: "22px" };

const legendRows = [
  { color: "#000000", y: 612.7, lines: [["AAr Data at 200 V/cm", 602], ["(LSV Anti-coinc.)", 622.7]] },
  { color: "#0f50ff", y: 660.7, lines: [["UAr Data at 200 V/cm", 650], ["(LSV Anti-coinc.)", 671]] },
  { color: "#7cf000", y: 710.3, lines: [] },
  { color: "#f57030", y: 758.3, lines: [] },
];

function Sup({ children, size, top }: any) {
  return <span style={{ fontSize: size, position: "relative", top, letterSpacing: -1 }}>{children}</span>;
}

export default function App() {
  const heatRef = useRef<HTMLCanvasElement>(null);
  const barRef = useRef<HTMLCanvasElement>(null);
  const specRef = useRef<HTMLCanvasElement>(null);

  useEffect(() => {
    const charts = [heatChart(heatRef.current!), colorBarChart(barRef.current!), spectrumChart(specRef.current!)];
    return () => charts.forEach((c) => c.destroy());
  }, []);

  const canvasStyle: React.CSSProperties = { position: "absolute", left: 0, top: 0, width: PAGE_W, height: PAGE_H };

  return (
    <div style={{ position: "fixed", left: 0, top: 0, width: PAGE_W, height: PAGE_H, background: "#fff", overflow: "hidden", filter: "blur(0.45px)" }}>
      <div style={abs({ left: 19, top: 5, width: 1037, height: 1139, background: "linear-gradient(180deg,#000 0%,#03030f 18%,#0e0e2a 32%,#2e2e4e 50%,#4a4a68 68%,#62627e 85%,#6e6e88 100%)" })} />
      <div style={abs({ left: 1014, top: 1088, color: "#fff", fontFamily: "'Liberation Sans', sans-serif", fontSize: 56, lineHeight: "56px" })}>9</div>
      <div style={abs({ left: 85, top: 26.7, width: 952.7, height: 534, background: "#fff", boxShadow: "0 0 0 1px #c9c9d4" })} />
      <div style={abs({ left: 84, top: 570, width: 954.5, height: 565, background: "#fff", boxShadow: "0 0 0 1px #c9c9d4" })} />

      <canvas ref={heatRef} width={PAGE_W} height={PAGE_H} style={canvasStyle} />
      <canvas ref={barRef} width={PAGE_W} height={PAGE_H} style={canvasStyle} />
      <canvas ref={specRef} width={PAGE_W} height={PAGE_H} style={canvasStyle} />

      <div style={abs({ left: 55, top: 294, transform: "translate(-50%,-50%) rotate(-90deg)", color: "#c4c4cc", fontFamily: "'Liberation Sans', sans-serif", fontSize: 24.5, whiteSpace: "nowrap" })}>PLB 743, 456 (2015)</div>
      <div style={abs({ left: 55, top: 842, transform: "translate(-50%,-50%) rotate(-90deg)", color: "#b4b4c2", fontFamily: "'Liberation Sans', sans-serif", fontSize: 26, whiteSpace: "nowrap" })}>PRD, 93 (2016): 081101(R)</div>

      <div style={abs({ right: PAGE_W - 917, top: 27, fontFamily: TEXT_FONT, fontWeight: 700, fontSize: 22, lineHeight: "26px", color: "#1a1a1a", whiteSpace: "pre" })}>
        Energy [keV<span style={{ fontSize: 14, position: "relative", top: 8 }}>nr</span>]
      </div>
      <div style={abs({ left: 130, top: 92, transform: "translate(-50%,-50%) rotate(-90deg)", fontFamily: TEXT_FONT, fontWeight: 700, fontSize: 19, color: "#1a1a1a", whiteSpace: "pre" })}>
        f<span style={{ fontSize: 12, position: "relative", top: 4 }}>90</span>
      </div>

      {legendRows.map((row, i) => (
        <div key={i} style={abs({ left: 658, top: row.y - 1.5, width: 72, height: 3, background: row.color })} />
      ))}
      {legendRows.flatMap((row, i) =>
        row.lines.map((l: any, j: number) => (
          <div key={i + "-" + j} style={abs({ ...legendFont, left: j === 0 ? 743 : 745, top: l[1] - 11 })}>{l[0]}</div>
        ))
      )}
      <div style={abs({ ...legendFont, left: 743, top: 699 })}><Sup size={11} top={-7}>85</Sup>Kr (Global Fit)</div>
      <div style={abs({ ...legendFont, left: 743, top: 747 })}><Sup size={11} top={-7}>39</Sup>Ar (Global Fit)</div>

      <div style={abs({ left: 249, top: 919, fontFamily: TEXT_FONT, fontWeight: 700, fontSize: 32, lineHeight: "38px", color: "#e8605f", whiteSpace: "pre" })}>
        <span style={{ fontFamily: "'Liberation Sans', sans-serif", fontWeight: 400, fontSize: 19, position: "relative", top: -11 }}>39</span>Ar in UAr
      </div>
      <div style={abs({ left: 251, top: 959, fontFamily: TEXT_FONT, fontWeight: 700, fontSize: 32, lineHeight: "38px", color: "#e8605f", whiteSpace: "pre" })}>{"< 1 mBq/kg"}</div>
    </div>
  );
}
